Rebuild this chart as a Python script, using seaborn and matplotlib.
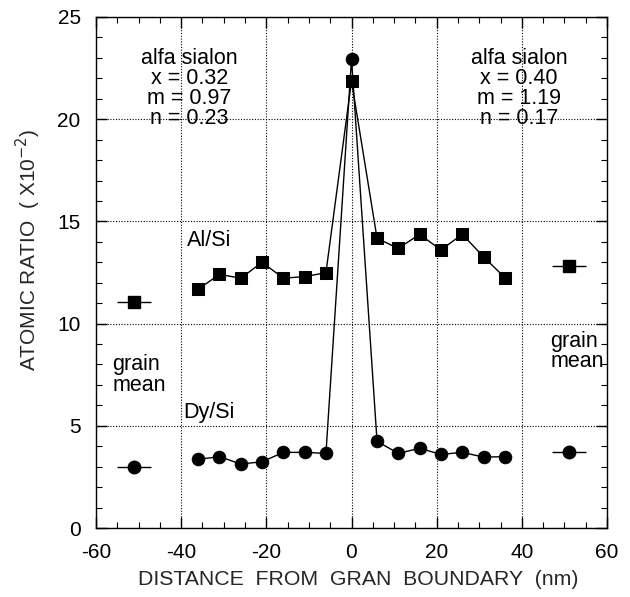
import matplotlib
matplotlib.use("Agg")
import matplotlib.pyplot as plt
import seaborn as sns
import pandas as pd
from matplotlib.ticker import MultipleLocator

# ---- data ----
distance = [-36, -31, -26, -21, -16, -11, -6, 0, 6, 11, 16, 21, 26, 31, 36]
al_si = [11.68, 12.41, 12.22, 13.0, 12.22, 12.3, 12.49, 21.87,
         14.17, 13.68, 14.37, 13.6, 14.37, 13.27, 12.25]
dy_si = [3.36, 3.49, 3.13, 3.24, 3.7, 3.7, 3.65, 22.95,
         4.24, 3.65, 3.9, 3.6, 3.7, 3.47, 3.49]
grain_x = [-51, 51]
grain_al = [11.04, 12.83]
grain_dy = [2.97, 3.70]
grain_xerr = [4, 4]

xticks = [-60, -40, -20, 0, 20, 40, 60]
yticks = [0, 5, 10, 15, 20, 25]

sns.set_style("ticks")
plt.rcParams['font.family'] = ['Liberation Sans', 'DejaVu Sans']
plt.rcParams['axes.unicode_minus'] = False

fig = plt.figure(figsize=(6.3, 5.97), dpi=100)
ax = fig.add_axes([96/630, 1-528/597, 511/630, 511/597])

df = pd.DataFrame({"x": distance, "al": al_si, "dy": dy_si})
sns.lineplot(data=df, x="x", y="al", ax=ax, color="black", lw=1,
             marker="s", markersize=8, markeredgecolor="black", sort=True)
sns.lineplot(data=df, x="x", y="dy", ax=ax, color="black", lw=1,
             marker="o", markersize=9, markeredgecolor="black", sort=True)
ax.errorbar(grain_x, grain_al, xerr=grain_xerr, fmt="s", color="black",
            ms=8, elinewidth=1, capsize=0)
ax.errorbar(grain_x, grain_dy, xerr=grain_xerr, fmt="o", color="black",
            ms=9, elinewidth=1, capsize=0)

ax.set_xlim(-60, 60)
ax.set_ylim(0, 25)
ax.set_xticks(xticks)
ax.set_yticks(yticks)
ax.xaxis.set_minor_locator(MultipleLocator(5))
ax.yaxis.set_minor_locator(MultipleLocator(1))
ax.tick_params(which="both", direction="in", top=True, right=True,
               colors="black", labelsize=15)
ax.tick_params(which="major", length=8, width=1)
ax.tick_params(which="minor", length=4, width=0.8)
ax.tick_params(axis="x", pad=11)
ax.tick_params(axis="y", pad=11)
for s in ax.spines.values():
    s.set_color("black")
    s.set_linewidth(1)
ax.grid(True, which="major", color="black", linestyle=(0, (1, 1.5)), lw=0.8)

ax.set_xlabel("DISTANCE  FROM  GRAN  BOUNDARY  (nm)", fontsize=15.3)
ax.xaxis.set_label_coords(0.514, -0.083)
ax.set_ylabel("ATOMIC RATIO  ( X10$^{-2}$)", fontsize=15)
ax.yaxis.set_label_coords(-0.103, 0.545)

txt = dict(fontsize=15.5, color="black", linespacing=0.95)
ax.text(-38, 21.5, "alfa sialon\nx = 0.32\nm = 0.97\nn = 0.23",
        ha="center", va="center", **txt)
ax.text(39.3, 21.5, "alfa sialon\nx = 0.40\nm = 1.19\nn = 0.17",
        ha="center", va="center", **txt)
ax.text(-38.6, 14.09, "Al/Si", ha="left", va="center", **txt)
ax.text(-39.6, 5.64, "Dy/Si", ha="left", va="center", **txt)
ax.text(-56.2, 7.49, "grain\nmean", ha="left", va="center", **txt)
ax.text(46.7, 8.63, "grain\nmean", ha="left", va="center", **txt)

fig.savefig("out.png", dpi=100)
